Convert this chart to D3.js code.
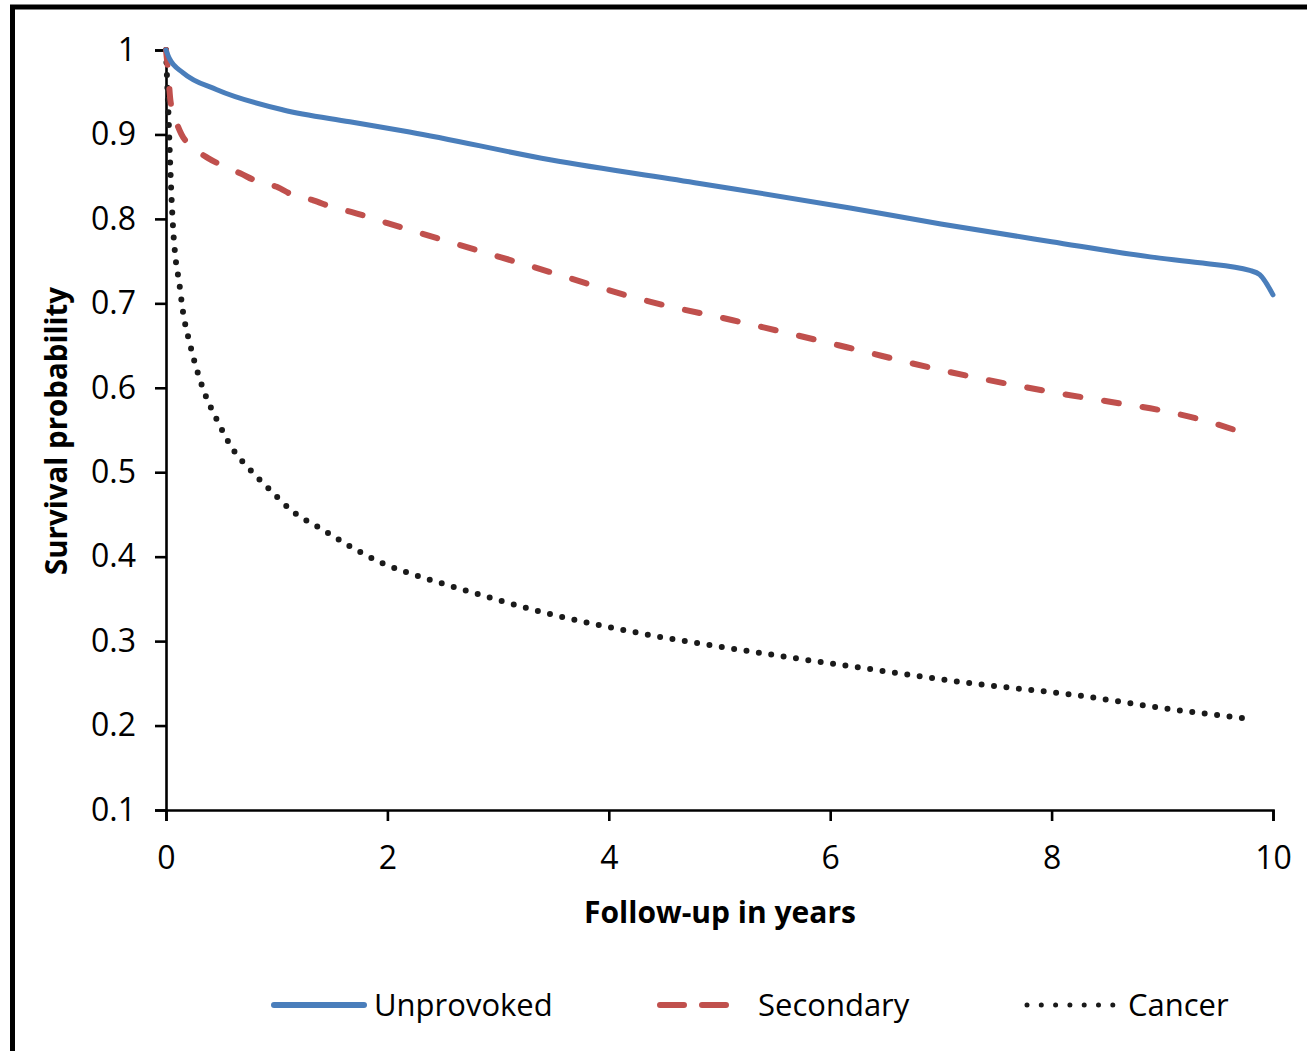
<!DOCTYPE html>
<html>
<head>
<meta charset="utf-8">
<script src="https://cdn.jsdelivr.net/npm/d3@7"></script>
<style>
  html, body { margin: 0; padding: 0; background: #fff; }
  svg { display: block; }
  text { font-family: "Open Sans", Lato, sans-serif; fill: #000; }
</style>
</head>
<body>
<svg id="chart" width="1307" height="1051"></svg>
<script>
// Follow-up time (years) and survival probability for each group
const unprovokedYears = [0, 0.03, 0.155, 0.46, 1.06, 1.66, 2.2, 3.47, 4.82, 6.18, 7.0, 8.0, 8.89, 9.34, 9.79, 9.88, 10.0];
const unprovokedSurv  = [1.0, 0.99, 0.973, 0.953, 0.929, 0.915, 0.903, 0.870, 0.842, 0.813, 0.794, 0.773, 0.755, 0.748, 0.739, 0.734, 0.710];

const secondaryYears = [0, 0.02, 0.04, 0.08, 0.14, 0.24, 0.38, 0.53, 0.67, 0.83, 1.0, 1.15, 1.33, 1.5, 1.68, 2.0, 2.2, 3.32, 4.37, 5.12, 6.15, 7.0, 8.0, 8.5, 9.0, 9.3, 9.75];
const secondarySurv  = [1.0, 0.973, 0.94, 0.92, 0.90, 0.885, 0.872, 0.862, 0.854, 0.844, 0.838, 0.828, 0.822, 0.814, 0.808, 0.795, 0.787, 0.743, 0.702, 0.680, 0.648, 0.621, 0.595, 0.584, 0.573, 0.564, 0.546];

const cancerYears = [0, 0.01, 0.02, 0.035, 0.05, 0.065, 0.085, 0.12, 0.15, 0.22, 0.34, 0.46, 0.61, 0.76, 0.94, 1.15, 1.39, 1.64, 1.96, 2.14, 2.63, 3.44, 4.38, 5.27, 6.30, 7.28, 8.22, 9.15, 9.72];
const cancerSurv  = [1.0, 0.964, 0.932, 0.875, 0.825, 0.787, 0.755, 0.724, 0.693, 0.65, 0.597, 0.562, 0.526, 0.503, 0.479, 0.453, 0.434, 0.414, 0.392, 0.383, 0.363, 0.333, 0.307, 0.288, 0.268, 0.250, 0.236, 0.218, 0.209];

const xTicks = [0, 2, 4, 6, 8, 10];
const yTicks = [0.1, 0.2, 0.3, 0.4, 0.5, 0.6, 0.7, 0.8, 0.9, 1];
const seriesNames = ["Unprovoked", "Secondary", "Cancer"];

const svg = d3.select("#chart");

// outer frame
svg.append("rect")
  .attr("x", 12.5).attr("y", 7).attr("width", 1400).attr("height", 1100)
  .attr("fill", "none").attr("stroke", "#000").attr("stroke-width", 5);

const margin = { left: 166, right: 1273, top: 50, bottom: 810 };
const x = d3.scaleLinear().domain([0, 10]).range([margin.left, margin.right]);
const y = d3.scaleLinear().domain([0.1, 1]).range([margin.bottom, margin.top]);

// axes
const xAxis = svg.append("g")
  .attr("transform", `translate(0,${margin.bottom})`)
  .call(d3.axisBottom(x).tickValues(xTicks).tickSize(11).tickPadding(25).tickFormat(d3.format("d")));
const yAxis = svg.append("g")
  .attr("transform", `translate(${margin.left},0)`)
  .call(d3.axisLeft(y).tickValues(yTicks).tickSize(11).tickPadding(19).tickFormat(d => d === 1 ? "1" : d3.format(".1f")(d)));

[xAxis, yAxis].forEach(g => {
  g.select(".domain").attr("stroke", "#000").attr("stroke-width", 2.6);
  g.selectAll(".tick line").attr("stroke", "#000").attr("stroke-width", 2.6);
  g.selectAll(".tick text").attr("font-size", 32).attr("font-family", "'Open Sans', sans-serif").attr("fill", "#000");
});
xAxis.selectAll(".tick text").attr("dy", "0.71em");

// axis titles
svg.append("text")
  .attr("x", 720).attr("y", 923)
  .attr("text-anchor", "middle").attr("font-size", 30).attr("font-weight", 700)
  .text("Follow-up in years");
svg.append("text")
  .attr("transform", "translate(67,431) rotate(-90)")
  .attr("text-anchor", "middle").attr("font-size", 29.5).attr("font-weight", 700)
  .text("Survival probability");

const line = d3.line()
  .x(d => x(d[0]))
  .y(d => y(d[1]))
  .curve(d3.curveMonotoneX);

const styles = [
  { color: "#4a7ebb", width: 5, dash: null },
  { color: "#c0504d", width: 6, dash: "15,24" },
  { color: "#1a1a1a", width: 6, dash: "0,12.5" }
];
const series = [
  d3.zip(unprovokedYears, unprovokedSurv),
  d3.zip(secondaryYears, secondarySurv),
  d3.zip(cancerYears, cancerSurv)
];

// draw cancer first, then secondary, then unprovoked on top
[2, 1, 0].forEach(i => {
  svg.append("path")
    .datum(series[i])
    .attr("fill", "none")
    .attr("stroke", styles[i].color)
    .attr("stroke-width", styles[i].width)
    .attr("stroke-linecap", "round")
    .attr("stroke-linejoin", "round")
    .attr("stroke-dasharray", styles[i].dash)
    .attr("d", line);
});

// legend
const legend = [
  { x0: 274, x1: 364, tx: 374, dash: null },
  { x0: 660, x1: 730, tx: 758, dash: "24,18" },
  { x0: 1027, x1: 1114, tx: 1128, dash: "0,14.3" }
];
legend.forEach((l, i) => {
  svg.append("line")
    .attr("x1", l.x0).attr("x2", l.x1).attr("y1", 1005).attr("y2", 1005)
    .attr("stroke", styles[i].color)
    .attr("stroke-width", i === 2 ? 5 : 6)
    .attr("stroke-linecap", "round")
    .attr("stroke-dasharray", l.dash);
  svg.append("text")
    .attr("x", l.tx).attr("y", 1016)
    .attr("font-size", 31)
    .text(seriesNames[i]);
});
</script>
</body>
</html>
